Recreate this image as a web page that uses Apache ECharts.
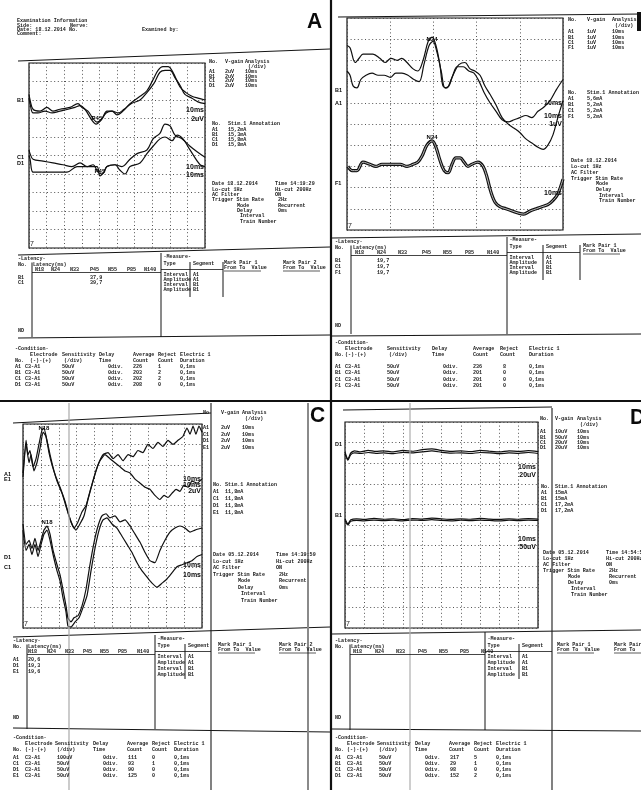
<!DOCTYPE html>
<html><head><meta charset="utf-8">
<script src="https://cdn.jsdelivr.net/npm/echarts/dist/echarts.min.js"></script>
<style>html,body{margin:0;padding:0;background:#fff}#c{width:641px;height:790px}</style>
</head><body><div id="c"></div>
<script>
// ---------- DATA (time in ms, amplitude in divisions from bottom of each screen) ----------
const waves = ['N18','N24','N33','P45','N55','P85','N140'];
const dates = ['18.12.2014','18.12.2014','05.12.2014','05.12.2014'];
const times = ['14:19:29','','14:39:59','14:54:59'];

// Panel A
const aB1 = [[0,8.3],[0.6,8.0],[2.3,7.5],[6.3,7.4],[10.2,7.6],[13.6,7.4],[17.6,7.5],[23.3,7.6],[27.8,7.8],[30.1,7.6],[33.5,7.4],[36.4,7.0],[38.6,6.8],[41.5,7.0],[44.3,7.4],[47.2,7.4],[50.0,7.2],[53.4,7.4],[57.4,7.8],[63.1,8.2],[67.0,8.5],[70.5,9.1],[73.3,9.6],[76.1,9.8],[79.0,9.8],[81.8,9.5],[85.8,8.7],[89.2,8.4],[92.6,8.2],[96.0,8.1],[100,8.0]];
const aA1 = [[0,8.1],[0.6,7.8],[2.3,7.3],[5.1,7.3],[9.1,7.4],[13.1,7.3],[17.6,7.4],[22.2,7.5],[26.1,7.6],[29.0,7.7],[31.8,7.5],[35.8,6.9],[38.1,6.7],[40.9,6.9],[43.8,7.3],[47.2,7.4],[50.6,7.3],[54.0,7.5],[58.0,7.8],[63.1,8.0],[67.0,8.4],[71.0,8.9],[74.4,9.5],[77.3,9.6],[80.1,9.6],[83.0,9.2],[85.8,8.8],[88.6,8.3],[92.6,8.1],[96.0,7.9],[100,7.8]];
const aC1 = [[0,5.3],[0.6,5.1],[2.3,4.8],[8.0,4.7],[13.6,4.6],[19.3,4.5],[24.4,4.4],[29.0,4.6],[33.0,4.4],[36.4,4.5],[39.2,4.1],[41.5,4.0],[44.3,4.4],[48.9,4.5],[52.8,4.4],[57.4,4.8],[61.4,5.1],[67.0,5.3],[70.5,5.9],[74.4,6.2],[77.3,6.7],[80.1,6.6],[83.0,6.1],[86.9,5.9],[91.5,5.5],[95.5,5.2],[100,4.9]];
const aD1 = [[0,5.0],[0.6,4.8],[2.3,4.1],[6.3,4.1],[10.2,4.1],[15.9,4.1],[21.6,4.1],[27.3,4.4],[33.0,4.4],[38.6,4.4],[40.3,3.9],[42.6,4.1],[44.3,4.4],[48.9,4.5],[51.7,4.2],[54.5,4.0],[57.4,4.4],[63.1,4.6],[67.0,5.1],[70.5,5.5],[74.4,5.9],[77.3,6.0],[81.3,5.8],[84.1,6.1],[87.5,5.9],[91.5,5.3],[97.2,4.5],[100,4.4]];

// Panel B
const bB1 = [[0,8.7],[0.7,8.6],[1.9,7.9],[2.8,8.1],[3.7,8.3],[4.9,8.3],[6.0,8.3],[7.6,8.1],[8.8,7.9],[10.2,8.1],[11.6,8.0],[12.7,8.1],[13.9,7.9],[15.3,7.6],[16.4,7.5],[17.6,8.0],[18.8,8.9],[19.7,9.1],[20.6,8.7],[21.5,7.8],[22.2,6.8],[23.1,6.7],[24.1,7.1],[25.0,7.5],[25.9,7.8],[27.3,7.9],[28.5,7.6],[29.6,7.5],[30.8,7.3],[31.9,6.8],[33.1,6.4],[34.5,5.9],[35.9,5.3],[37.3,5.0],[38.7,4.8],[40.0,4.6],[41.4,4.3],[42.8,4.1],[44.2,3.9],[45.4,3.8],[46.5,4.0],[47.7,4.5],[48.8,5.3],[50,6.1]];
const bA1 = [[0,7.5],[0.7,7.3],[1.4,6.8],[2.3,6.7],[3.2,7.1],[4.4,7.3],[5.8,7.4],[7.2,7.3],[8.6,7.3],[10.0,7.2],[11.3,7.4],[12.7,7.4],[14.1,7.3],[15.5,7.1],[16.7,7.0],[17.8,7.8],[19.0,8.7],[19.9,8.9],[20.8,8.4],[21.8,7.5],[22.7,6.7],[23.6,6.8],[24.5,7.3],[25.5,7.7],[26.9,7.7],[28.2,7.5],[29.4,7.4],[30.6,7.0],[31.7,6.5],[33.1,6.0],[34.5,5.6],[35.9,5.2],[37.3,5.1],[38.7,5.2],[40.0,5.3],[41.4,5.4],[42.8,5.3],[44.2,5.6],[45.6,5.8],[47.0,6.1],[48.4,6.6],[50,7.1]];
const bF1 = [[0.2,3.0],[1.2,2.8],[2.3,2.8],[3.7,3.2],[5.3,3.1],[6.7,3.0],[8.1,3.1],[9.5,3.1],[10.9,3.1],[12.3,3.1],[13.9,3.0],[15.3,3.1],[16.4,3.2],[17.4,3.5],[18.5,4.0],[19.7,4.2],[20.6,3.9],[21.5,3.3],[22.5,2.8],[23.4,2.7],[24.3,3.1],[25.2,3.4],[26.2,3.4],[27.1,3.2],[28.0,3.0],[28.9,3.1],[30.3,3.2],[31.5,3.0],[32.4,2.5],[33.3,1.8],[34.3,1.3],[35.4,1.1],[36.8,1.0],[38.2,0.9],[39.6,0.8],[40.9,0.75],[42.4,0.9],[43.8,1.0],[45.1,1.1],[46.5,1.2],[47.7,1.4],[48.8,1.7],[50,2.4]];

// Panel C
const cA1 = [[0,7.6],[1.7,9.2],[2.8,8.5],[3.9,8.7],[5.6,7.9],[7.3,8.3],[8.9,9.0],[10.6,9.7],[11.7,9.8],[13.4,9.2],[15.1,8.5],[17.3,7.7],[19.0,7.2],[21.8,6.6],[24.6,5.8],[26.8,5.2],[28.5,4.9],[30.7,5.2],[33.0,5.7],[35.2,6.0],[37.4,6.7],[39.7,7.4],[41.9,8.0],[44.7,8.5],[47.5,8.6],[50.3,8.3],[53.1,8.5],[55.9,8.2],[58.7,8.5],[61.5,8.4],[64.2,8.7],[67.0,8.6],[69.8,9.0],[72.6,8.8],[75.4,9.1],[78.2,8.9],[81.0,9.2],[83.8,9.0],[86.6,9.2],[89.4,9.4],[91.6,9.8],[93.3,9.5],[95.0,9.9],[96.6,9.5],[98.3,9.9],[100,9.6]];
const cE1 = [[0,7.4],[1.7,9.0],[3.4,8.1],[4.5,8.5],[6.1,7.7],[7.8,8.1],[9.5,8.8],[11.2,9.6],[12.8,9.4],[14.5,8.6],[16.2,8.0],[18.4,7.4],[20.7,6.9],[23.5,6.2],[25.7,5.5],[27.9,5.0],[29.6,4.8],[31.8,5.1],[34.1,5.5],[36.3,6.3],[38.5,7.0],[40.8,7.7],[43.0,8.2],[45.8,8.5],[48.6,8.3],[51.4,8.1],[54.2,7.9],[57.0,7.7],[59.8,7.6],[62.6,7.3],[65.4,7.1],[68.2,6.9],[70.9,6.8],[73.7,6.5],[76.5,6.3],[78.8,6.5],[81.0,6.4],[83.2,6.6],[85.5,6.8],[87.7,6.7],[89.9,7.0],[92.2,6.9],[94.4,7.2],[97.2,7.1],[100,7.3]];
const cD1 = [[0,5.1],[1.7,4.1],[3.4,4.3],[5.0,3.9],[6.7,4.4],[8.4,3.8],[10.1,4.3],[11.7,4.8],[13.4,5.0],[15.1,4.6],[16.8,3.8],[19.0,3.1],[20.7,2.6],[22.3,1.9],[24.0,1.1],[25.1,0.5],[26.8,0.3],[28.5,0.5],[30.7,0.6],[33.0,1.1],[35.2,1.9],[37.4,3.1],[39.7,4.2],[41.9,5.0],[44.1,5.5],[46.4,5.6],[48.6,5.4],[51.4,5.5],[54.2,5.2],[57.0,5.3],[59.8,5.0],[62.6,4.6],[65.4,4.2],[68.2,3.7],[70.9,3.3],[73.7,3.2],[76.5,3.8],[79.3,4.3],[82.1,4.7],[84.9,4.9],[87.7,5.0],[90.5,4.9],[93.3,4.7],[96.1,4.8],[100,4.9]];
const cC1 = [[0,4.8],[1.7,3.8],[3.4,4.1],[5.0,3.6],[6.7,4.1],[8.4,3.5],[10.1,4.1],[11.7,4.6],[13.4,4.8],[15.1,4.3],[16.8,3.6],[19.0,2.8],[20.7,2.3],[22.3,1.5],[24.0,0.8],[25.1,0.1],[26.8,0.05],[29.1,0.3],[31.3,0.5],[33.5,1.0],[35.8,1.6],[38.0,2.8],[40.2,3.9],[42.5,4.8],[44.7,5.3],[46.9,5.4],[49.7,5.1],[52.5,4.9],[55.3,4.5],[58.1,4.1],[60.9,3.7],[63.7,3.2],[66.5,2.8],[69.3,2.5],[72.1,2.2],[74.9,2.0],[77.7,2.2],[80.4,2.4],[83.2,2.7],[86.0,3.0],[88.8,3.1],[91.6,3.2],[94.4,3.3],[97.2,3.5],[100,3.6]];

// Panel D
const dD1 = [[0,8.55],[1.5,8.2],[3,8.5],[5,8.6],[8,8.55],[12,8.62],[16,8.57],[20,8.6],[25,8.55],[30,8.62],[35,8.58],[40,8.66],[45,8.7],[50,8.62],[55,8.57],[60,8.6],[65,8.56],[70,8.62],[75,8.58],[80,8.55],[85,8.6],[90,8.57],[95,8.61],[100,8.56]];
const dC1 = [[0,8.45],[1.5,8.15],[3,8.42],[5,8.5],[8,8.47],[12,8.52],[16,8.48],[20,8.5],[25,8.46],[30,8.53],[35,8.5],[40,8.55],[45,8.6],[50,8.53],[55,8.49],[60,8.5],[65,8.47],[70,8.52],[75,8.5],[80,8.46],[85,8.5],[90,8.48],[95,8.52],[100,8.47]];
const dB1 = [[0,5.3],[1.5,5.05],[3,5.25],[6,5.3],[10,5.27],[15,5.32],[20,5.28],[25,5.3],[30,5.26],[35,5.31],[40,5.29],[45,5.33],[50,5.3],[55,5.27],[60,5.3],[65,5.28],[70,5.32],[75,5.29],[80,5.27],[85,5.3],[90,5.28],[95,5.31],[100,5.29]];
const dA1 = [[0,5.22],[1.5,5.0],[3,5.18],[6,5.22],[10,5.2],[15,5.24],[20,5.21],[25,5.23],[30,5.2],[35,5.24],[40,5.22],[45,5.26],[50,5.22],[55,5.2],[60,5.23],[65,5.21],[70,5.24],[75,5.22],[80,5.2],[85,5.23],[90,5.21],[95,5.24],[100,5.22]];

// tables
const vgainA = [['A1','2uV','10ms'],['B1','2uV','10ms'],['C1','2uV','10ms'],['D1','2uV','10ms']];
const vgainB = [['A1','1uV','10ms'],['B1','1uV','10ms'],['C1','1uV','10ms'],['F1','1uV','10ms']];
const vgainC = [['A1','2uV','10ms'],['C1','2uV','10ms'],['D1','2uV','10ms'],['E1','2uV','10ms']];
const vgainD = [['A1','10uV','10ms'],['B1','50uV','10ms'],['C1','20uV','10ms'],['D1','20uV','10ms']];
const stimA = [['A1','15,2mA'],['B1','15,3mA'],['C1','15,8mA'],['D1','15,8mA']];
const stimB = [['A1','5,6mA'],['B1','5,2mA'],['C1','5,2mA'],['F1','5,2mA']];
const stimC = [['A1','11,8mA'],['C1','11,8mA'],['D1','11,8mA'],['E1','11,8mA']];
const stimD = [['A1','15mA'],['B1','15mA'],['C1','17,2mA'],['D1','17,2mA']];
const latA = [['B1','P45','37,9'],['C1','P45','39,7']];
const latB = [['B1','N24','19,7'],['C1','N24','19,7'],['F1','N24','19,7']];
const latC = [['A1','N18','20,6'],['D1','N18','19,3'],['E1','N18','19,6']];
const latD = [];
const condA = [['A1','C3-A1','50uV','0div.','226','1','0,1ms'],['B1','C3-A1','50uV','0div.','203','2','0,1ms'],['C1','C3-A1','50uV','0div.','202','2','0,1ms'],['D1','C3-A1','50uV','0div.','208','0','0,1ms']];
const condB = [['A1','C3-A1','50uV','0div.','236','8','0,1ms'],['B1','C3-A1','50uV','0div.','201','0','0,1ms'],['C1','C3-A1','50uV','0div.','201','0','0,1ms'],['F1','C3-A1','50uV','0div.','201','0','0,1ms']];
const condC = [['A1','C3-A1','100uV','0div.','111','0','0,1ms'],['C1','C3-A1','50uV','0div.','93','1','0,1ms'],['D1','C3-A1','50uV','0div.','90','0','0,1ms'],['E1','C3-A1','50uV','0div.','125','0','0,1ms']];
const condD = [['A1','C3-A1','50uV','0div.','317','5','0,1ms'],['B1','C3-A1','50uV','0div.','29','1','0,1ms'],['C1','C3-A1','50uV','0div.','98','0','0,1ms'],['D1','C3-A1','50uV','0div.','152','2','0,1ms']];

// ---------- DRAWING ----------
const MONO = '"Liberation Mono","DejaVu Sans Mono",monospace';
const SANS = '"Liberation Sans","DejaVu Sans",sans-serif';
const FS = 5.1;
const INK = '#1b1b1b';
const G = [];
function t(x, y, s, o) {
  o = o || {};
  return {type:'text', x:x, y:y, silent:true, z:10, scaleY:(o.sy || 1.1),
    style:{text:s, fill:o.c || INK, font:o.font || ('bold ' + FS + 'px ' + MONO),
    textAlign:o.align || 'left', align:o.align || 'left', textVerticalAlign:'middle', verticalAlign:'middle'}};
}
function ln(x1, y1, x2, y2, w, c) {
  return {type:'line', silent:true, z:5, shape:{x1:x1, y1:y1, x2:x2, y2:y2}, style:{stroke:c || '#151515', lineWidth:w || 1}};
}
function bold(x, y, s, size, align) { return t(x, y, s, {font:'bold ' + size + 'px ' + SANS, align:align || 'left', c:'#0a0a0a', sy:1.02}); }

function vgain(o, rows) {
  G.push(t(o.x0, o.y, o.no || 'No.'), t(o.x1, o.y, 'V-gain'), t(o.x2, o.y, 'Analysis'), t(o.x2 + 3, o.y + o.s, '(/div)'));
  rows.forEach(function (r, i) { const y = o.y + o.r0 + i * o.dy; G.push(t(o.x0, y, r[0]), t(o.x1, y, r[1]), t(o.x2, y, r[2])); });
}
function stim(o, rows) {
  G.push(t(o.x0, o.y, 'No.'), t(o.x1, o.y, 'Stim.1 Annotation'));
  rows.forEach(function (r, i) { const y = o.y + o.r0 + i * o.dy; G.push(t(o.x0, y, r[0]), t(o.x1, y, r[1])); });
}
function dateBlock(o, date, time) {
  const L = [['Date ' + date, 0, 'Time ' + time, 0], ['Lo-cut 1Hz', 0, 'Hi-cut 200Hz', 0], ['AC Filter', 0, 'ON', 0],
    ['Trigger Stim Rate', 0, '2Hz', 3], ['Mode', 25, 'Recurrent', 3], ['Delay', 25, '0ms', 3], ['Interval', 28, '', 0], ['Train Number', 28, '', 0]];
  L.forEach(function (r, i) {
    const y = o.y + i * o.dy;
    G.push(t(o.x0 + r[1], y, r[0]));
    if (r[2] && time) G.push(t(o.x1 + r[3], y, r[2]));
  });
}
function latency(o, rows) {
  G.push(t(o.x0, o.y, '-Latency-'), t(o.x0, o.y + 6, 'No.'), t(o.xl, o.y + 5.5, 'Latency(ms)'));
  waves.forEach(function (w, i) { G.push(t(o.cols[i], o.y + 10.5, w)); });
  G.push(ln(o.xv, o.y + 13.5, o.xm, o.y + 13.5, 0.8));
  rows.forEach(function (r, i) {
    const y = o.y + 19 + i * o.dy;
    G.push(t(o.x0, y, r[0]), t(o.cols[waves.indexOf(r[1])], y, r[2]));
  });
  G.push(t(o.x0, o.nd, 'ND'));
  G.push(ln(o.xv, o.y + 3.5, o.xv, o.bot, 1));
  G.push(ln(o.xm, o.top, o.xm, o.bot, 1));
  const mx = o.xm + 2.5;
  G.push(t(mx, o.y - 2, '-Measure-'), t(mx, o.y + 5, 'Type'), t(o.xs + 3, o.y + 5, 'Segment'));
  G.push(ln(o.xs, o.y + 3, o.xs, o.y + 38, 1));
  G.push(ln(o.xm, o.y + 10.5, o.xp, o.y + 10.5, 0.8));
  const types = [['Interval','A1'],['Amplitude','A1'],['Interval','B1'],['Amplitude','B1']];
  types.forEach(function (r, i) { const y = o.y + 16 + i * o.mdy; G.push(t(mx, y, r[0]), t(o.xs + 3, y, r[1])); });
  if (o.pline) G.push(ln(o.xp, o.y + 3, o.xp, o.y + 38, 1));
  o.pairs.forEach(function (px, i) {
    G.push(t(px, o.y + 4, 'Mark Pair ' + (i + 1)), t(px, o.y + 9, 'From To  Value'), ln(px, o.y + 12, px + 37, o.y + 12, 0.7));
  });
}
function condition(o, rows) {
  G.push(t(o.cx[0], o.y, '-Condition-'));
  const h1 = ['Electrode','Sensitivity','Delay','Average','Reject','Electric 1'];
  const h2 = ['(-)-(+)','(/div)','Time','Count','Count','Duration'];
  h1.forEach(function (s, i) { G.push(t(o.hx[i], o.y + 5.5, s)); });
  G.push(t(o.cx[0], o.y + 12, 'No.'));
  h2.forEach(function (s, i) { G.push(t(o.hx[i] + (i === 1 ? 2 : 0), o.y + 11.5, s)); });
  rows.forEach(function (r, i) {
    const y = o.y + o.r0 + i * o.dy;
    r.forEach(function (s, j) { G.push(t(o.cx[j], y, s)); });
  });
}

// ----- structural lines -----
G.push(ln(331, 0, 331, 790, 2.2, '#111'));
G.push(ln(0, 401, 641, 401, 2.2, '#111'));
G.push(ln(18, 61, 330, 49, 1.2), ln(18, 255, 330, 247, 1.2), ln(18, 338, 330, 335, 1.2));
G.push(ln(338, 17, 641, 14, 1.2), ln(332, 238, 641, 234, 1.2), ln(332, 336, 641, 334, 1.2));
G.push({type:'rect', silent:true, z:6, shape:{x:637, y:12, width:4, height:19}, style:{fill:'#111'}});
G.push(ln(13, 423, 211, 413, 1.2), ln(13, 637, 330, 627, 1.2), ln(13, 728, 330, 732, 1.2));
G.push(ln(211, 403, 211, 790, 1.1, '#1a1a1a'), ln(69, 403, 69, 790, 1.2, '#a9a9a9'), ln(308, 403, 308, 790, 2, '#8a8a8a'));
G.push(ln(343, 410, 552, 407, 1.2), ln(332, 634, 641, 630, 1.2), ln(332, 729, 641, 731, 1.2));
G.push(ln(552, 408, 552, 790, 1.1, '#1a1a1a'), ln(410, 403, 410, 790, 1.2, '#adadad'));

// ----- header of A -----
G.push(t(17, 21, 'Examination Information'), t(17, 25.3, 'Side:'), t(70, 25.3, 'Nerve:'),
  t(17, 29.6, 'Date: ' + dates[0] + ' No.'), t(17, 34, 'Comment:'), t(142, 30, 'Examined by:'));
G.push(bold(307, 22, 'A', 21), bold(310, 416, 'C', 21), bold(630, 418, 'D', 21));

// ----- right columns -----
vgain({x0:209, x1:225, x2:245, y:62, s:5, r0:10, dy:4.5}, vgainA);
vgain({x0:568, x1:587, x2:612, y:20, s:5.5, r0:12, dy:5.3}, vgainB);
vgain({x0:203, x1:221, x2:242, y:413, s:6, r0:15, dy:6.5, no:'No'}, vgainC);
vgain({x0:540, x1:555, x2:577, y:419, s:6, r0:13, dy:5.3}, vgainD);
stim({x0:212, x1:228, y:124, r0:6, dy:5}, stimA);
stim({x0:568, x1:587, y:93, r0:6, dy:6}, stimB);
stim({x0:213, x1:225, y:485, r0:7, dy:7}, stimC);
stim({x0:541, x1:555, y:487, r0:6, dy:6}, stimD);
dateBlock({x0:212, x1:275, y:184, dy:5.3}, dates[0], times[0]);
dateBlock({x0:571, x1:660, y:161, dy:5.7}, dates[1], times[1]);
dateBlock({x0:213, x1:276, y:555, dy:6.5}, dates[2], times[2]);
dateBlock({x0:543, x1:606, y:553, dy:6}, dates[3], times[3]);

// ----- latency / measure -----
latency({x0:18, xl:33, y:259, cols:[35,51,70,90,108,127,144], xv:32, xm:161, xs:190, xp:223, pline:true, top:253, bot:337, nd:331, dy:5, mdy:4.7, pairs:[224,283]}, latA);
latency({x0:335, xl:353, y:242, cols:[355,377,398,422,443,465,487], xv:351, xm:507, xs:543, xp:580, pline:true, top:237, bot:334, nd:326, dy:6, mdy:5, pairs:[583]}, latB);
latency({x0:13, xl:28, y:641, cols:[28,47,65,83,100,118,137], xv:27, xm:155, xs:185, xp:211, pline:false, top:635, bot:729, nd:718, dy:6, mdy:6, pairs:[218,279]}, latC);
latency({x0:335, xl:351, y:641, cols:[353,375,396,418,439,460,481], xv:350, xm:485, xs:519, xp:552, pline:false, top:632, bot:730, nd:718, dy:6, mdy:6, pairs:[557,614]}, latD);

// ----- condition -----
condition({cx:[15,25,62,108,133,158,180], hx:[30,62,99,133,158,180], y:349, r0:18, dy:6}, condA);
condition({cx:[335,345,387,443,473,503,529], hx:[345,387,432,473,500,529], y:343, r0:23.5, dy:6.3}, condB);
condition({cx:[13,25,57,103,128,152,174], hx:[25,55,93,127,152,174], y:738, r0:20, dy:6}, condC);
condition({cx:[335,347,379,425,450,474,496], hx:[347,377,415,449,474,496], y:738, r0:20, dy:6}, condD);

// ----- channel labels & scale marks -----
const LF = 5.5;
G.push(bold(17, 100, 'B1', LF), bold(17, 157, 'C1', LF), bold(17, 163, 'D1', LF));
G.push(bold(204, 110, '10ms', 7, 'right'), bold(204, 119, '2uV', 7, 'right'), bold(204, 167, '10ms', 7, 'right'), bold(204, 175, '10ms', 7, 'right'));
G.push(bold(335, 90, 'B1', LF), bold(335, 103, 'A1', LF), bold(335, 183, 'F1', LF));
G.push(bold(562, 103, '10ms', 7, 'right'), bold(562, 116, '10ms', 7, 'right'), bold(562, 124, '1uV', 7, 'right'), bold(562, 193, '10ms', 7, 'right'));
G.push(bold(4, 474, 'A1', LF), bold(4, 479, 'E1', LF), bold(4, 557, 'D1', LF), bold(4, 567, 'C1', LF));
G.push(bold(201, 479, '10ms', 7, 'right'), bold(201, 485, '10ms', 7, 'right'), bold(201, 491, '2uV', 7, 'right'), bold(201, 565, '10ms', 7, 'right'), bold(201, 575, '10ms', 7, 'right'));
G.push(bold(335, 444, 'D1', LF), bold(335, 515, 'B1', LF));
G.push(bold(536, 467, '10ms', 7, 'right'), bold(536, 475, '20uV', 7, 'right'), bold(536, 539, '10ms', 7, 'right'), bold(536, 547, '50uV', 7, 'right'));
G.push(t(30, 244, '7', {font:'7px ' + SANS, sy:1}), t(348, 226, '7', {font:'7px ' + SANS, sy:1}), t(24, 624, '7', {font:'7px ' + SANS, sy:1}), t(346, 624, '7', {font:'7px ' + SANS, sy:1}));

// ---------- CHART ----------
const grids = [
  {left:29, top:63, width:176, height:185},
  {left:347, top:18, width:216, height:212},
  {left:23, top:424, width:179, height:204},
  {left:345, top:422, width:193, height:206}
];
const xMax = [100, 50, 100, 100];
const split = {show:true, lineStyle:{color:'#404040', type:[1, 2.6], width:0.9}};
const xAxes = grids.map(function (g, i) { return {type:'value', gridIndex:i, min:0, max:xMax[i], interval:10, axisLine:{show:false}, axisTick:{show:false}, axisLabel:{show:false}, splitLine:split}; });
const yAxes = grids.map(function (g, i) { return {type:'value', gridIndex:i, min:0, max:10, interval:1, axisLine:{show:false}, axisTick:{show:false}, axisLabel:{show:false}, splitLine:split}; });

function wave(data, gi, extra) {
  return Object.assign({type:'line', xAxisIndex:gi, yAxisIndex:gi, data:data, showSymbol:false, symbol:'none', smooth:0.35,
    lineStyle:{color:'#101010', width:1.2}, silent:true, animation:false, z:3, clip:false}, extra || {});
}
function peak(name, coord) {
  return {markPoint:{symbol:'circle', symbolSize:0.1, silent:true, animation:false,
    label:{show:true, position:'top', distance:1, formatter:'{b}', fontFamily:SANS, fontWeight:'bold', fontSize:6, color:'#0a0a0a'},
    data:[{name:name, coord:coord}]}};
}

const series = [
  wave(aB1, 0, peak('P45', [38.6, 6.8])), wave(aA1, 0), wave(aC1, 0), wave(aD1, 0, peak('P45', [40.3, 3.9])),
  wave(bB1, 1, peak('N24', [19.7, 8.8])), wave(bA1, 1),
  wave(bF1, 1, Object.assign({lineStyle:{color:'#111', width:3.2}}, peak('N24', [19.7, 4.2]))),
  wave(bF1, 1, {lineStyle:{color:'#bdbdbd', width:1}, z:4}),
  wave(cA1, 2, Object.assign({smooth:0.15}, peak('N18', [11.7, 9.6]))), wave(cE1, 2, {smooth:0.15}),
  wave(cD1, 2, Object.assign({smooth:0.15}, peak('N18', [13.4, 5.0]))), wave(cC1, 2, {smooth:0.15}),
  wave(dD1, 3, {smooth:0.2}), wave(dC1, 3, {smooth:0.2}), wave(dB1, 3, {smooth:0.2}), wave(dA1, 3, {smooth:0.2})
];

const chart = echarts.init(document.getElementById('c'), null, {renderer:'canvas'});
chart.setOption({
  backgroundColor:'#ffffff',
  animation:false,
  grid: grids.map(function (g) { return Object.assign({show:true, borderColor:'#151515', borderWidth:1.2, backgroundColor:'rgba(0,0,0,0)', containLabel:false}, g); }),
  xAxis: xAxes,
  yAxis: yAxes,
  series: series,
  graphic: {elements: G}
});
</script></body></html>
